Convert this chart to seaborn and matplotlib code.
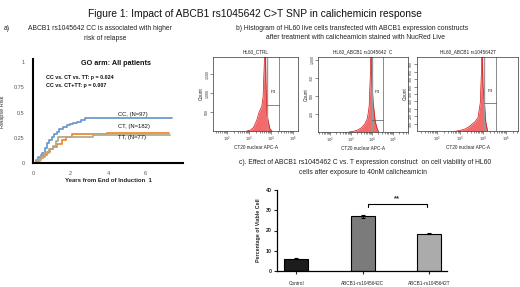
import numpy as np
import pandas as pd
import matplotlib
matplotlib.use('Agg')
import matplotlib.pyplot as plt
import seaborn as sns

sns.set_style('white')
plt.rcParams['font.family'] = ['Liberation Sans', 'DejaVu Sans']

# ---- data ----
# a) cumulative relapse risk, step points
cc_t = [0, 0.15, 0.28, 0.4, 0.5, 0.62, 0.73, 0.85, 1.0, 1.12, 1.26, 1.4, 1.62, 1.8, 1.97, 2.15, 2.33, 2.55, 2.77, 7.4]
cc_r = [0, 0.03, 0.06, 0.08, 0.10, 0.15, 0.195, 0.23, 0.26, 0.29, 0.31, 0.34, 0.36, 0.38, 0.39, 0.40, 0.41, 0.43, 0.45, 0.45]
ct_t = [0, 0.2, 0.37, 0.55, 0.73, 0.9, 1.08, 1.3, 1.53, 1.75, 2.06, 3.93, 7.25]
ct_r = [0, 0.02, 0.047, 0.08, 0.11, 0.14, 0.16, 0.19, 0.23, 0.26, 0.284, 0.30, 0.30]
tt_t = [0, 0.25, 0.45, 0.65, 0.85, 1.05, 1.2, 1.35, 3.2, 4.0, 7.3]
tt_r = [0, 0.03, 0.06, 0.10, 0.14, 0.17, 0.22, 0.26, 0.275, 0.28, 0.28]
km_labels = ['CC, (N=97)', 'CT, (N=182)', 'TT, (N=77)']

# b) flow histograms: log10 intensity vs count
flow_titles = ['HL60_CTRL', 'HL60_ABCB1 rs1045642  C', 'HL60_ABCB1 rs1045642T']
ctrl_x = [2.9, 3.05, 3.2, 3.35, 3.45, 3.58, 3.64, 3.69, 3.73, 3.77, 3.82, 3.88, 3.95, 4.05]
ctrl_y = [0, 20, 90, 280, 480, 650, 900, 1700, 2600, 1300, 420, 250, 60, 0]
c_x = [2.9, 3.1, 3.3, 3.5, 3.65, 3.78, 3.86, 3.92, 3.95, 3.99, 4.05, 4.15, 4.25, 4.32]
c_y = [0, 8, 25, 60, 110, 190, 350, 800, 1300, 700, 420, 150, 40, 0]
t_x = [2.85, 3.0, 3.2, 3.4, 3.55, 3.65, 3.78, 3.88, 3.93, 3.96, 4.0, 4.06, 4.12, 4.2]
t_y = [0, 8, 25, 60, 100, 126, 180, 380, 800, 1200, 600, 380, 120, 0]
gate_lo = [3.82, 4.0, 4.04]
gate_hi = [4.36, 4.52, 4.57]
gate_bottom = [676, 162, 378]

# c) viability bars
conditions = ['Control', 'ABCB1-rs1045642C', 'ABCB1-rs1045642T']
viable = [6.0, 27.0, 18.5]
viable_err = [0.3, 0.7, 0.4]

W, H = 520, 287
fig = plt.figure(figsize=(W / 100, H / 100), dpi=100)


def rect(x0, y0, x1, y1):
    return [x0 / W, 1 - y1 / H, (x1 - x0) / W, (y1 - y0) / H]


def txt(x, y, s, **kw):
    kw.setdefault('ha', 'center')
    kw.setdefault('va', 'center')
    fig.text(x / W, 1 - y / H, s, **kw)


txt(255, 14, 'Figure 1: Impact of ABCB1 rs1045642 C>T SNP in calichemicin response', fontsize=7.4, color='#111111')

# ---- panel a ----
txt(7, 29, 'a)', fontsize=4.9, color='#222222')
txt(100, 29, 'ABCB1 rs1045642 CC is associated with higher', fontsize=4.9, color='#222222')
txt(105, 38, 'risk of relapse', fontsize=4.9, color='#222222')

km = pd.concat([
    pd.DataFrame({'t': cc_t, 'r': cc_r, 'g': 'CC'}),
    pd.DataFrame({'t': ct_t, 'r': ct_r, 'g': 'CT'}),
    pd.DataFrame({'t': tt_t, 'r': tt_r, 'g': 'TT'}),
])
ax = fig.add_axes(rect(33, 59, 183, 163))
sns.lineplot(data=km, x='t', y='r', hue='g', palette=['#6d9bd1', '#ed8b34', '#b3aa8f'],
             drawstyle='steps-post', estimator=None, legend=False, linewidth=1.3, ax=ax)
ax.set_xlim(0, 8)
ax.set_ylim(0, 1.03)
ax.set_xticks([0, 2, 4, 6, 8])
ax.set_xticklabels(['0', '2', '4', '6', ''])
ax.set_yticks([0, 0.25, 0.5, 0.75, 1])
ax.set_yticklabels(['0', '0.25', '0.5', '0.75', '1'])
ax.tick_params(direction='inout', length=4, width=1.4, labelsize=4, labelcolor='#555555', pad=4)
for s in ['top', 'right']:
    ax.spines[s].set_visible(False)
for s in ['left', 'bottom']:
    ax.spines[s].set_linewidth(1.5)
    ax.spines[s].set_color('black')
ax.set_xlabel('')
ax.set_ylabel('')
ax.patch.set_alpha(0)
txt(108, 181, 'Years from End of Induction  1', fontsize=4.3, fontweight='bold', color='#222222')
txt(2.5, 112, 'Relapse Risk', fontsize=4, rotation=90, color='#333333')
txt(116, 64, 'GO arm: All patients', fontsize=5.2, fontweight='bold', color='#111111')
txt(46, 77, 'CC vs. CT vs. TT: p = 0.024', fontsize=3.9, fontweight='bold', ha='left', color='#111111')
txt(46, 85, 'CC vs. CT+TT: p = 0.007', fontsize=3.9, fontweight='bold', ha='left', color='#111111')
for lab, yy in zip(km_labels, [114.5, 127, 138]):
    txt(118, yy, lab, fontsize=4.2, ha='left', color='#111111')

# ---- panel b ----
txt(352, 28, 'b) Histogram of HL60 live cells transfected with ABCB1 expression constructs', fontsize=4.9, color='#222222')
txt(355, 37, 'after treatment with calicheamicin stained with NucRed Live', fontsize=4.9, color='#222222')

flow_rects = [rect(213, 57, 298, 131), rect(318, 57, 408, 132), rect(417, 57, 518, 131)]
flow_xlim = [(1.36, 5.23), (1.43, 5.71), (1.13, 5.52)]
flow_ymax = [1950, 1040, 1000]
flow_ticks = [[500, 1000, 1500], [250, 500, 750, 1000], list(range(100, 1000, 100))]
flow_data = [(ctrl_x, ctrl_y), (c_x, c_y), (t_x, t_y)]
p3_y = [1028, 555, 540]
for i in range(3):
    fx = fig.add_axes(flow_rects[i])
    xs = 10 ** np.array(flow_data[i][0])
    ys = np.array(flow_data[i][1])
    fx.fill_between(xs, 0, ys, color='#f05050', alpha=0.85, linewidth=0)
    sns.lineplot(x=xs, y=ys, color='#d01010', linewidth=0.5, ax=fx, sort=False)
    fx.set_xscale('log')
    fx.set_xlim(10 ** flow_xlim[i][0], 10 ** flow_xlim[i][1])
    fx.set_ylim(0, flow_ymax[i])
    fx.set_xticks([1e2, 1e3, 1e4, 1e5])
    fx.set_xticklabels(['$10^2$', '$10^3$', '$10^4$', '$10^5$'])
    fx.set_yticks(flow_ticks[i])
    fx.set_yticklabels([f'{v:,}' for v in flow_ticks[i]], rotation=90, va='center')
    fx.tick_params(which='both', direction='out', length=2, width=0.4, labelsize=2.6, pad=0.8, colors='#333333')
    fx.tick_params(which='minor', length=1.2)
    fx.tick_params(axis='y', which='both', left=True)
    fx.tick_params(axis='x', which='both', bottom=True)
    for s in fx.spines.values():
        s.set_linewidth(0.5)
        s.set_color('#333333')
    lo, hi = 10 ** gate_lo[i], 10 ** gate_hi[i]
    fx.axvline(lo, color='#999999', linewidth=1.0)
    fx.axvline(hi, color='#777777', linewidth=0.6)
    fx.plot([lo, hi], [gate_bottom[i], gate_bottom[i]], color='#555555', linewidth=0.5)
    fx.text(10 ** ((gate_lo[i] + gate_hi[i]) / 2), p3_y[i], 'P3', fontsize=3.2, ha='center', va='center', color='#222222')
    fx.set_title(flow_titles[i], fontsize=3.4, pad=2.5, color='#222222')
    fx.set_xlabel('CT20 nuclear APC-A', fontsize=3.4, labelpad=0.5, color='#222222')
    fx.set_ylabel('Count', fontsize=3.4, labelpad=1, color='#222222')

# ---- panel c ----
txt(365, 162, 'c). Effect of ABCB1 rs1045462 C vs. T expression construct  on cell viability of HL60', fontsize=4.9, color='#222222')
txt(363, 172, 'cells after exposure to 40nM calicheamicin', fontsize=4.9, color='#222222')

bx = fig.add_axes(rect(277, 190, 447, 271))
bars = pd.DataFrame({'cond': conditions, 'val': viable})
sns.barplot(data=bars, x='cond', y='val', hue='cond', palette=['#1c1c1c', '#7b7b7b', '#ababab'],
            legend=False, width=0.36, edgecolor='black', linewidth=0.8, ax=bx)
bx.errorbar(range(3), viable, yerr=viable_err, fmt='none', ecolor='black', elinewidth=0.8, capsize=1.5, capthick=0.8)
bx.set_xlim(-0.29, 2.27)
bx.set_ylim(0, 40)
bx.set_yticks([0, 10, 20, 30, 40])
bx.tick_params(direction='out', length=2.5, width=0.8, labelsize=3.8, pad=1.5)
bx.tick_params(axis='x', labelsize=3.4, pad=4.5)
bx.tick_params(axis='both', left=True, bottom=True)
for lab in bx.get_yticklabels():
    lab.set_fontweight('bold')
for s in ['top', 'right']:
    bx.spines[s].set_visible(False)
for s in ['left', 'bottom']:
    bx.spines[s].set_linewidth(0.9)
    bx.spines[s].set_color('black')
bx.set_xlabel('')
bx.set_ylabel('Percentage of Viable Cell', fontsize=3.8, fontweight='bold', labelpad=3)
bx.plot([1.08, 1.08, 1.97, 1.97], [31.5, 33, 33, 31.5], color='black', linewidth=0.8)
bx.text(1.52, 35.5, '**', fontsize=5.5, ha='center', va='center', fontweight='bold')
bx.patch.set_alpha(0)

fig.savefig('out.png', dpi=100)
